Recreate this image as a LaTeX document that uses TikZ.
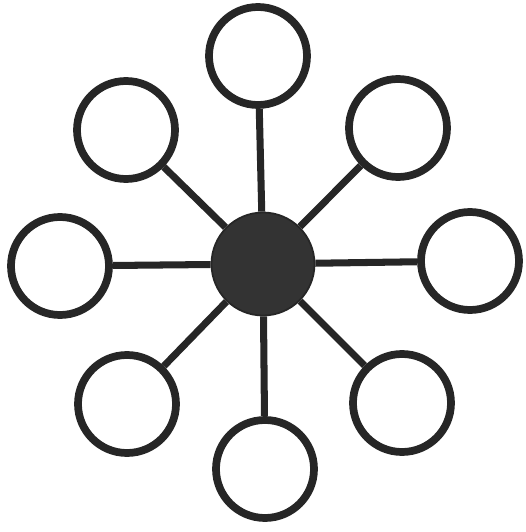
\documentclass[tikz,border=0pt]{standalone}
\usetikzlibrary{positioning}

\begin{document}
\begin{tikzpicture}[
    ring/.style={
        circle,
        draw=black!85,
        line width=4.4pt,
        minimum size=1.96cm,
        inner sep=0pt
    },
    hub/.style={
        circle,
        draw=black!85,
        fill=black!80,
        line width=1pt,
        minimum size=2.06cm,
        inner sep=0pt
    },
    spoke/.style={draw=black!85, line width=4pt}
]

\useasboundingbox (0,0) rectangle (10.52,10.64);

% ============================================================
% NODES
% ============================================================
\node[hub]  (core)  at (5.26, 5.36) {};

\node[ring] (north) at (5.16, 9.52) {};
\node[ring] (nwest) at (2.52, 8.04) {};
\node[ring] (neast) at (7.96, 8.08) {};
\node[ring] (west)  at (1.20, 5.32) {};
\node[ring] (east)  at (9.40, 5.42) {};
\node[ring] (swest) at (2.54, 2.56) {};
\node[ring] (seast) at (8.04, 2.58) {};
\node[ring] (south) at (5.30, 1.26) {};

% ============================================================
% EDGES
% ============================================================
\draw[spoke] (core) -- (north);
\draw[spoke] (core) -- (nwest);
\draw[spoke] (core) -- (neast);
\draw[spoke] (core) -- (west);
\draw[spoke] (core) -- (east);
\draw[spoke] (core) -- (swest);
\draw[spoke] (core) -- (seast);
\draw[spoke] (core) -- (south);

\end{tikzpicture}
\end{document}
